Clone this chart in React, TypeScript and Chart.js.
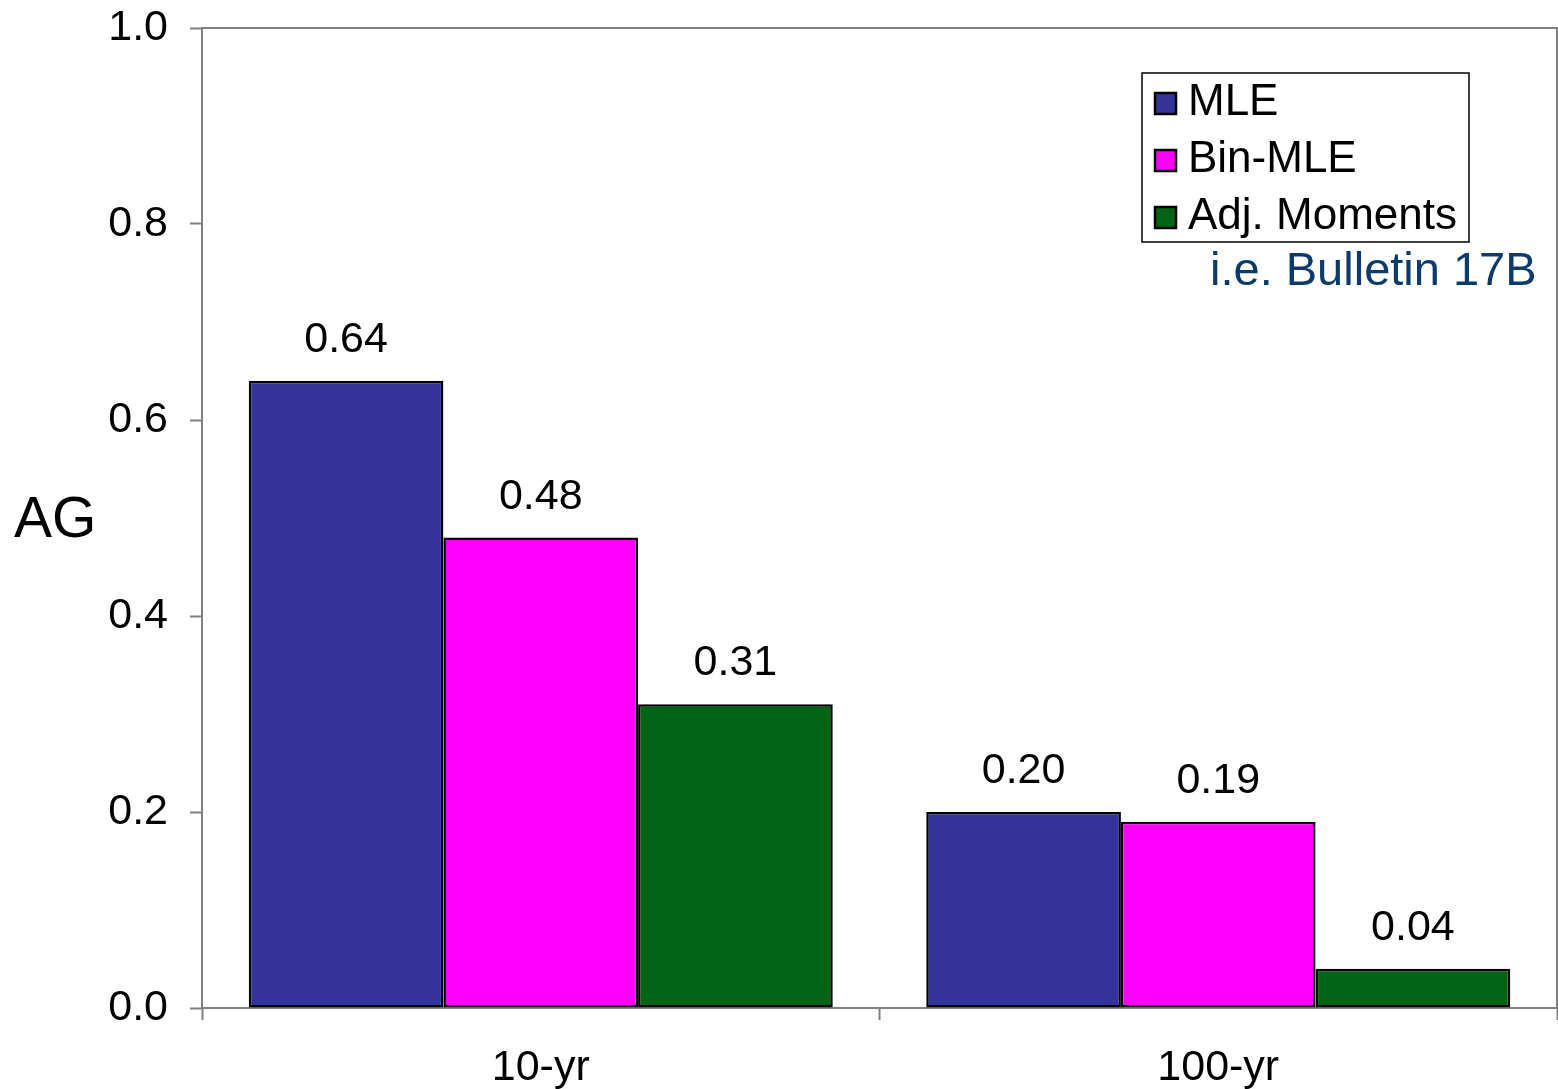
import React, { useEffect, useRef } from "react";
import { Chart, registerables } from "chart.js";

Chart.register(...registerables);

const categories = ["10-yr", "100-yr"];
const seriesNames = ["MLE", "Bin-MLE", "Adj. Moments"];
const mleValues = [0.64, 0.2];
const binMleValues = [0.48, 0.19];
const adjMomentsValues = [0.31, 0.04];
const seriesColors = ["#333399", "#FF00FF", "#006414"];
const yTitle = "AG";
const note = "i.e. Bulletin 17B";

const FONT = "'Liberation Sans', Arial, sans-serif";
const AXIS_GRAY = "#808080";

const dataLabelsPlugin = {
  id: "dataLabels",
  afterDatasetsDraw(chart: any) {
    const ctx = chart.ctx;
    ctx.save();
    ctx.font = `43px ${FONT}`;
    ctx.fillStyle = "#000";
    ctx.textAlign = "center";
    ctx.textBaseline = "alphabetic";
    chart.data.datasets.forEach((ds: any, di: number) => {
      const meta = chart.getDatasetMeta(di);
      meta.data.forEach((el: any, i: number) => {
        ctx.fillText(Number(ds.data[i]).toFixed(2), el.x, el.y - 29);
      });
    });
    ctx.restore();
  },
};

const frameAndTextPlugin = {
  id: "frameAndText",
  beforeDatasetsDraw(chart: any) {
    const { ctx, chartArea } = chart;
    ctx.save();
    ctx.strokeStyle = AXIS_GRAY;
    ctx.lineWidth = 2;
    ctx.beginPath();
    ctx.moveTo(chartArea.left, chartArea.top);
    ctx.lineTo(chartArea.right, chartArea.top);
    ctx.lineTo(chartArea.right, chartArea.bottom);
    ctx.stroke();
    ctx.restore();
  },
  afterDraw(chart: any) {
    const { ctx } = chart;
    ctx.save();
    // y title, horizontal
    ctx.font = `57px ${FONT}`;
    ctx.fillStyle = "#000";
    ctx.textAlign = "left";
    ctx.textBaseline = "alphabetic";
    ctx.fillText(yTitle, 14, 537);

    // legend box
    const bx = 1142, by = 73, bw = 327, bh = 169;
    ctx.fillStyle = "#fff";
    ctx.fillRect(bx, by, bw, bh);
    ctx.strokeStyle = "#000";
    ctx.lineWidth = 1.5;
    ctx.strokeRect(bx, by, bw, bh);
    const baselines = [115, 172, 229];
    ctx.font = `44px ${FONT}`;
    chart.data.datasets.forEach((ds: any, i: number) => {
      const b = baselines[i];
      ctx.fillStyle = ds.backgroundColor;
      ctx.fillRect(1155, b - 22, 21, 21);
      ctx.strokeStyle = "#000";
      ctx.lineWidth = 2.5;
      ctx.strokeRect(1155, b - 22, 21, 21);
      ctx.fillStyle = "#000";
      ctx.fillText(ds.label, 1188, b);
    });

    // note
    ctx.font = `47px ${FONT}`;
    ctx.fillStyle = "#0B3A6B";
    ctx.fillText(note, 1210, 285);
    ctx.restore();
  },
};

export default function App() {
  const canvasRef = useRef<HTMLCanvasElement | null>(null);

  useEffect(() => {
    if (!canvasRef.current) return;
    const values = [mleValues, binMleValues, adjMomentsValues];
    const chart = new Chart(canvasRef.current, {
      type: "bar",
      data: {
        labels: categories,
        datasets: seriesNames.map((name, i) => ({
          label: name,
          data: values[i],
          backgroundColor: seriesColors[i],
          borderColor: "#000",
          borderWidth: 2.5,
          borderSkipped: false,
          categoryPercentage: 0.862,
          barPercentage: 1.0,
        })),
      },
      options: {
        responsive: false,
        animation: false,
        devicePixelRatio: 1,
        layout: { padding: { top: 28, right: 1, left: 0, bottom: 0 } },
        plugins: {
          legend: { display: false },
          tooltip: { enabled: false },
          title: { display: false },
        },
        scales: {
          x: {
            type: "category",
            offset: true,
            grid: {
              display: true,
              offset: true,
              drawOnChartArea: false,
              drawTicks: true,
              tickLength: 12,
              tickColor: AXIS_GRAY,
              tickWidth: 2,
            },
            border: { display: true, color: AXIS_GRAY, width: 2 },
            ticks: {
              color: "#000",
              font: { family: FONT, size: 43 },
              padding: 22,
              maxRotation: 0,
            },
            afterFit(scale: any) {
              scale.height = 81;
              scale.paddingLeft = 0;
              scale.paddingRight = 0;
            },
          },
          y: {
            type: "linear",
            min: 0,
            max: 1,
            grid: {
              display: true,
              drawOnChartArea: false,
              drawTicks: true,
              tickLength: 12,
              tickColor: AXIS_GRAY,
              tickWidth: 2,
            },
            border: { display: true, color: AXIS_GRAY, width: 2 },
            ticks: {
              stepSize: 0.2,
              color: "#000",
              font: { family: FONT, size: 43 },
              padding: 22,
              callback: (v: any) => Number(v).toFixed(1),
            },
            afterFit(scale: any) {
              scale.width = 202;
              scale.paddingTop = 0;
              scale.paddingBottom = 0;
            },
          },
        },
      } as any,
      plugins: [frameAndTextPlugin, dataLabelsPlugin],
    });
    return () => chart.destroy();
  }, []);

  return (
    <div style={{ position: "absolute", left: 0, top: 0, width: 1558, height: 1089, background: "#fff" }}>
      <canvas ref={canvasRef} width={1558} height={1089} style={{ display: "block" }} />
    </div>
  );
}
